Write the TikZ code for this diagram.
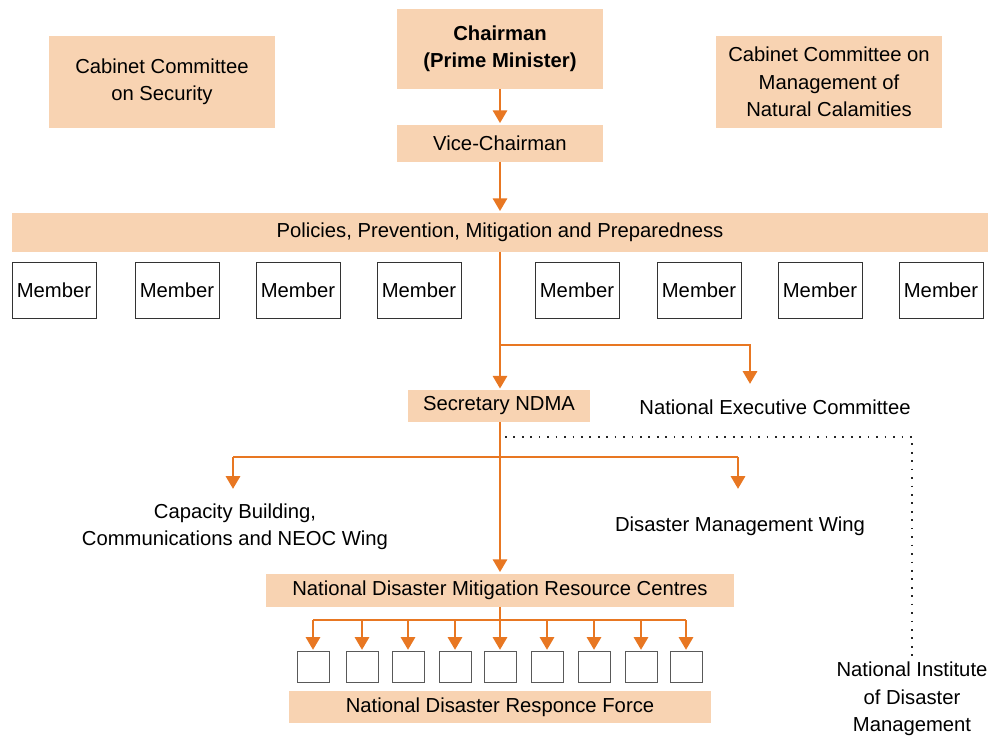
\documentclass[tikz,border=0pt]{standalone}
\usepackage{fontspec}
\setmainfont{Liberation Sans}
\usepackage{tikz}
\usetikzlibrary{arrows.meta}

\definecolor{peach}{RGB}{248,211,178}
\definecolor{ndmaorange}{RGB}{232,119,34}

\tikzset{
  bodybox/.style={fill=peach, inner sep=0pt, align=center},
  memberbox/.style={draw=black!80, line width=0.6pt, minimum width=2.1cm, minimum height=1.4cm, inner sep=0pt},
  unitbox/.style={draw=black!65, line width=0.6pt, minimum width=0.8cm, minimum height=0.78cm, inner sep=0pt},
  link/.style={draw=ndmaorange, line width=1.8pt, -{Triangle[width=10pt,length=9pt]}, shorten >=0.8pt},
  trunk/.style={draw=ndmaorange, line width=1.8pt},
  niline/.style={draw=black!85, line width=1.2pt, dash pattern=on 1.2pt off 4.8pt},
}

\begin{document}
\begin{tikzpicture}[x=0.025cm, y=-0.025cm, font=\fontsize{14.4}{19.5}\selectfont]
            \useasboundingbox (0,0) rectangle (992,739);

            % Top level
            \node[bodybox, minimum width=5.15cm, minimum height=2cm, font=\fontsize{14.4}{19.5}\selectfont\bfseries] (chair) at (500,49) {Chairman\\(Prime Minister)};
            \node[bodybox, minimum width=5.15cm, minimum height=0.925cm] (vice) at (500,143) {Vice-Chairman};
            \node[bodybox, minimum width=5.625cm, minimum height=2.3cm] (ccs) at (162,82) {Cabinet Committee\\on Security};
            \node[bodybox, minimum width=5.625cm, minimum height=2.3cm] (ccm) at (829,82) {Cabinet Committee on\\Management of\\Natural Calamities};
            \node[bodybox, minimum width=24.4cm, minimum height=0.975cm] (policy) at (500,232) {Policies, Prevention, Mitigation and Preparedness};

            % Members
            \foreach \x [count=\i] in {54,177,298,419,577,699,820,941}
                \node[memberbox] (member\i) at (\x,290) {Member};

            % Secretary level
            \node[bodybox, minimum width=4.525cm, minimum height=0.8cm] (secy) at (499,406) {Secretary NDMA};
            \node (nec) at (775,407) {National Executive Committee};
            \coordinate (necin) at (750,385);

            % Wings
            \node[align=center] (cbw) at (235,527) {Capacity Building,\\Communications and NEOC Wing};
            \node (dmw) at (740,526) {Disaster Management Wing};
            \coordinate (cbwin) at (233,490);
            \coordinate (dmwin) at (738,490);
            \node[align=center] (nidm) at (912,699) {National Institute\\of Disaster\\Management};

            % Resource centres and response force
            \node[bodybox, minimum width=11.7cm, minimum height=0.825cm] (ndmrc) at (500,590) {National Disaster Mitigation Resource Centres};
            \foreach \x [count=\i] in {313,362,408,455,500,547,594,641,686}
                \node[unitbox] (unit\i) at (\x,667) {};
            \node[bodybox, minimum width=10.525cm, minimum height=0.8cm] (ndrf) at (500,707) {National Disaster Responce Force};

            % Connectors
            \draw[link] (chair) -- (vice);
            \draw[link] (vice) -- (policy);
            \draw[link] (policy.south) -- (policy.south |- secy.north);
            \coordinate (necfork) at (policy.south |- 0,345);
            \draw[link] (necfork) -| (necin);

            \draw[link] (secy.south -| policy.south) -- (policy.south |- ndmrc.north);
            \coordinate (wingfork) at (policy.south |- 0,457);
            \draw[trunk] (cbwin |- wingfork) -- (dmwin |- wingfork);
            \draw[link] (cbwin |- wingfork) -- (cbwin);
            \draw[link] (dmwin |- wingfork) -- (dmwin);

            \coordinate (dotstart) at (505,437);
            \draw[niline] (dotstart) -| (nidm.north);

            \coordinate (unitfork) at (ndmrc.south |- 0,620);
            \draw[trunk] (ndmrc.south) -- (unitfork);
            \draw[trunk] (unit1.north |- unitfork) -- (unit9.north |- unitfork);
            \foreach \i in {1,...,9}
                \draw[link] (unit\i.north |- unitfork) -- (unit\i.north);
\end{tikzpicture}
\end{document}
